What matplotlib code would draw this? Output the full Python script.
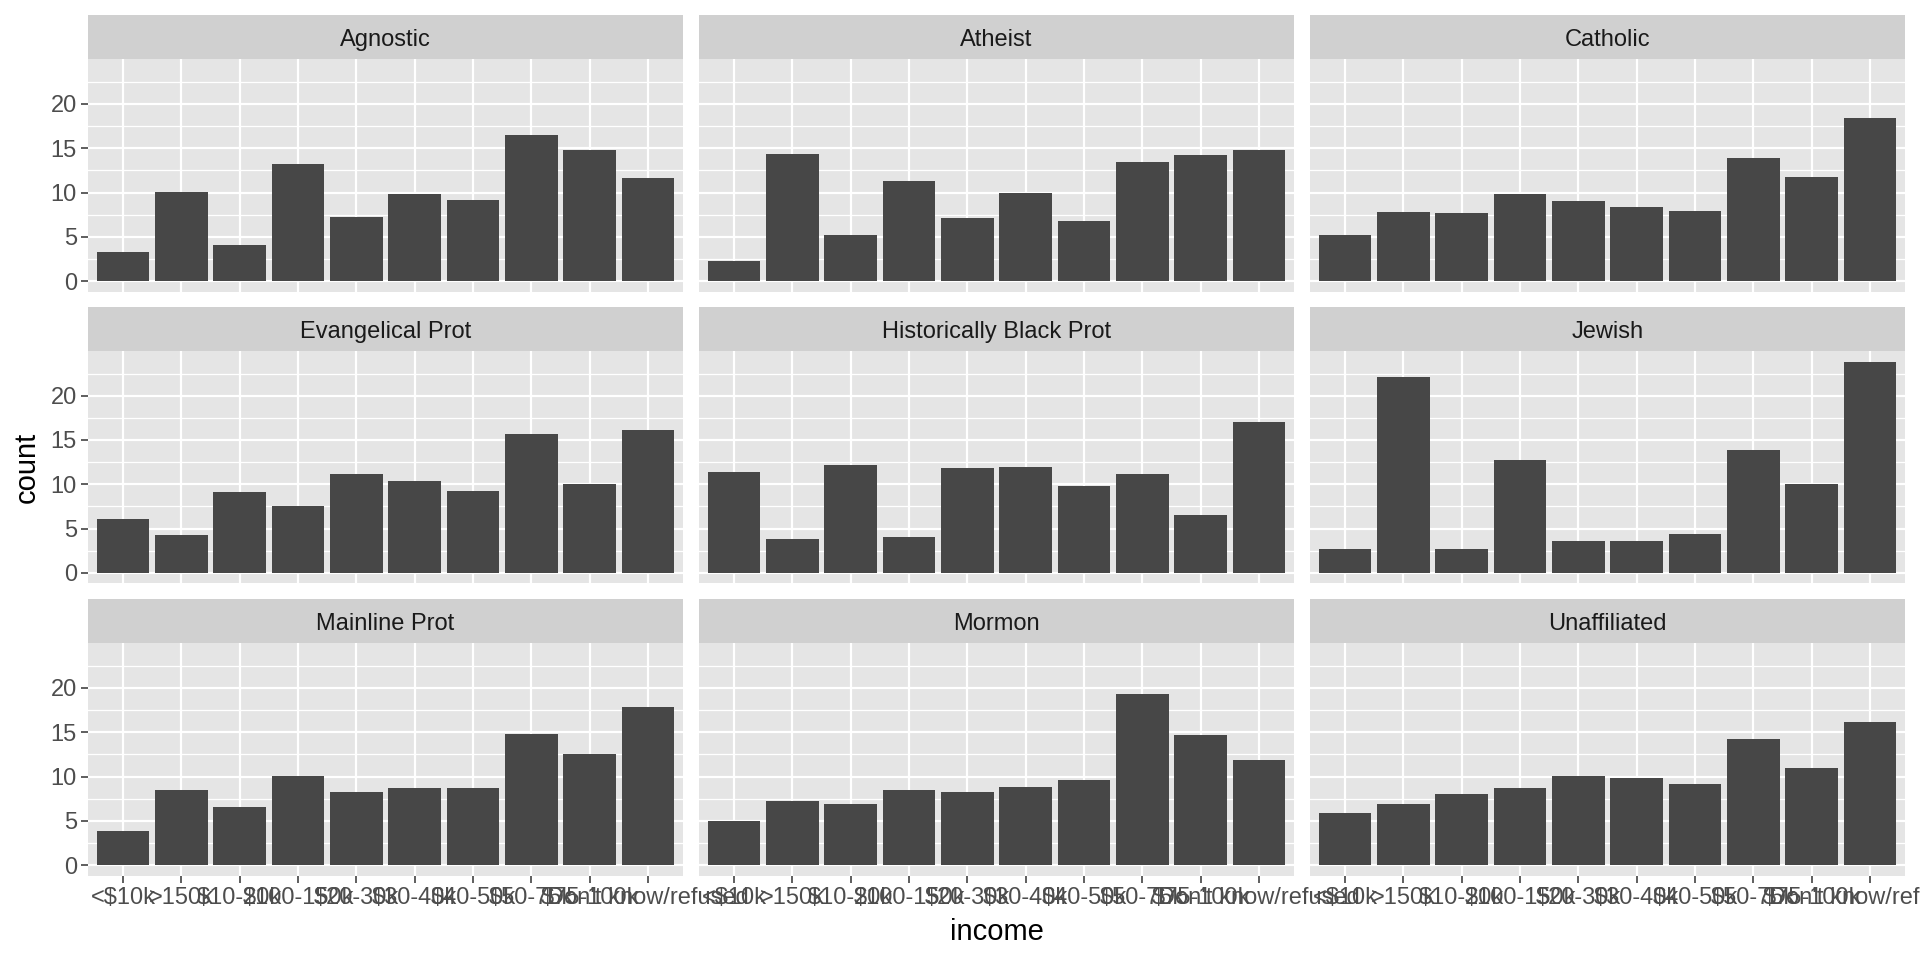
import numpy as np
import matplotlib.pyplot as plt

plt.rcParams['font.family'] = ['Liberation Sans', 'DejaVu Sans']
plt.rcParams['text.parse_math'] = False

# income categories (x axis, same for every facet)
income = ["<$10k", ">150k", "$10-20k", "$100-150k", "$20-30k", "$30-40k",
          "$40-50k", "$50-75k", "$75-100k", "Don't know/refused"]

religions = ["Agnostic", "Atheist", "Catholic",
             "Evangelical Prot", "Historically Black Prot", "Jewish",
             "Mainline Prot", "Mormon", "Unaffiliated"]

# bar heights per facet
agnostic = [3.3, 10.1, 4.05, 13.2, 7.2, 9.8, 9.15, 16.55, 14.75, 11.6]
atheist = [2.25, 14.3, 5.2, 11.35, 7.1, 10.0, 6.75, 13.5, 14.2, 14.75]
catholic = [5.2, 7.8, 7.65, 9.8, 9.0, 8.35, 7.9, 13.85, 11.7, 18.45]
evangelical = [6.05, 4.25, 9.1, 7.55, 11.15, 10.35, 9.25, 15.65, 10.0, 16.1]
hist_black = [11.35, 3.8, 12.15, 4.05, 11.85, 11.95, 9.8, 11.15, 6.5, 17.0]
jewish = [2.7, 22.1, 2.7, 12.75, 3.6, 3.6, 4.4, 13.85, 10.0, 23.85]
mainline = [3.85, 8.45, 6.55, 10.05, 8.25, 8.7, 8.7, 14.8, 12.5, 17.8]
mormon = [4.95, 7.2, 6.9, 8.45, 8.25, 8.8, 9.6, 19.3, 14.65, 11.85]
unaffiliated = [5.85, 6.9, 8.0, 8.7, 10.05, 9.8, 9.15, 14.2, 10.95, 16.15]

counts = [agnostic, atheist, catholic, evangelical, hist_black, jewish,
          mainline, mormon, unaffiliated]

y_breaks = [0, 5, 10, 15, 20]
y_minor = [2.5, 7.5, 12.5, 17.5, 22.5]

W, H = 1920, 960
fig = plt.figure(figsize=(W / 100, H / 100), dpi=100)

col_left = [88, 699, 1310]
panel_w = 595
row_top = [59.3, 351, 643.3]
panel_h = 232.4
strip_h = 44

ymax = max(max(c) for c in counts)
ylo, yhi = -0.05 * ymax, ymax * 1.05
x = np.arange(len(income))

for i, (name, vals) in enumerate(zip(religions, counts)):
    r, c = divmod(i, 3)
    left = col_left[c]
    top = row_top[r]
    ax = fig.add_axes([left / W, 1 - (top + panel_h) / H, panel_w / W, panel_h / H])
    ax.set_facecolor('#E5E5E5')
    ax.bar(x, vals, width=0.9, color='#474747', zorder=3)
    ax.set_xlim(-0.6, len(income) - 0.4)
    ax.set_ylim(ylo, yhi)
    ax.set_xticks(x)
    ax.set_yticks(y_breaks)
    ax.set_yticks(y_minor, minor=True)
    ax.grid(True, which='major', color='white', linewidth=1.6, zorder=1)
    ax.grid(True, which='minor', axis='y', color='white', linewidth=0.9, zorder=1)
    ax.set_axisbelow(True)
    for s in ax.spines.values():
        s.set_visible(False)
    ax.tick_params(which='minor', length=0)
    ax.tick_params(which='major', colors='#333333', length=5, width=1.1,
                   labelcolor='#4D4D4D', labelsize=17, pad=3)
    if c == 0:
        ax.set_yticklabels([str(b) for b in y_breaks])
    else:
        ax.tick_params(axis='y', which='major', length=0, labelleft=False)
    if r == 2:
        ax.set_xticklabels(income)
    else:
        ax.tick_params(axis='x', which='major', length=0, labelbottom=False)

    # facet strip
    sax = fig.add_axes([left / W, 1 - top / H, panel_w / W, strip_h / H])
    sax.set_facecolor('#D0D0D0')
    sax.set_xticks([])
    sax.set_yticks([])
    for s in sax.spines.values():
        s.set_visible(False)
    sax.text(0.5, 0.43, name, ha='center', va='center', fontsize=17,
             color='#1A1A1A', transform=sax.transAxes)

fig.text(27 / W, 1 - 467 / H, "count", rotation=90, ha='center', va='center',
         fontsize=21, color='black')
fig.text(996.5 / W, 1 - 932 / H, "income", ha='center', va='center',
         fontsize=21, color='black')

fig.savefig('out.png', dpi=100, facecolor='white')
